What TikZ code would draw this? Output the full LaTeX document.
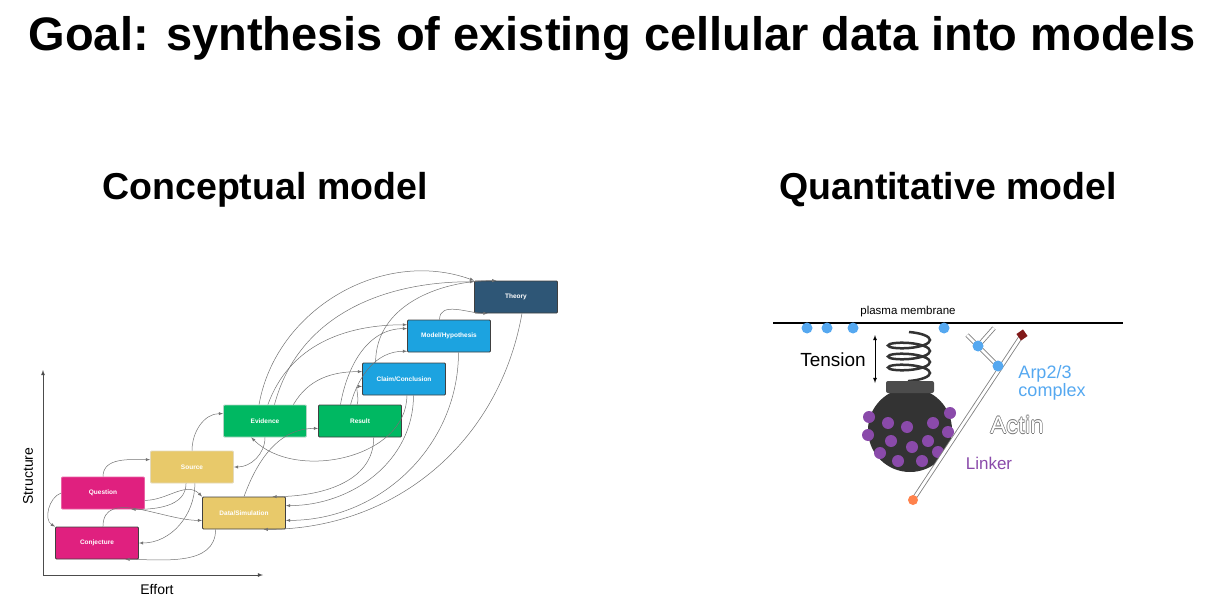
\documentclass[tikz,border=0pt]{standalone}
\usepackage{fontspec}
\setmainfont{Liberation Sans}
\usetikzlibrary{decorations.pathmorphing,calc}
\definecolor{theoryblue}{HTML}{2E5676}
\definecolor{claimblue}{HTML}{1CA3E0}
\definecolor{evgreen}{HTML}{00B862}
\definecolor{srcyellow}{HTML}{E8C96A}
\definecolor{qmagenta}{HTML}{E0207F}
\definecolor{arpblue}{HTML}{55A8F0}
\definecolor{linkpurple}{HTML}{8A4AAA}
\tikzset{
  stage/.style={draw=black!75, line width=0.8pt, rounded corners=1pt, minimum width=83pt,
    minimum height=32pt, text=white, font=\fontsize{6.5}{7}\selectfont\bfseries},
  link/.style={-latex, draw=black!55, line width=0.5pt},
  heading/.style={font=\fontsize{37.5}{40}\selectfont\bfseries},
  arpdot/.style={fill=arpblue, draw=none},
  lnkdot/.style={fill=linkpurple, draw=none},
  actinfont/.style={font=\fontsize{24}{26}\selectfont}
}
\begin{document}
\begin{tikzpicture}[x=1pt,y=-1pt]
  \useasboundingbox (0,0) rectangle (1218,610);
  \node[font=\fontsize{47}{50}\selectfont\bfseries] (title) at (612,38) {Goal: synthesis of existing cellular data into models};
  \node[heading] (concept) at (265,190) {Conceptual model};
  \node[heading] (quant) at (948,190) {Quantitative model};

  % axes
  \coordinate (origin) at (43,575);
  \coordinate (ytop) at (43,370);
  \coordinate (xend) at (263,575);
  \draw[-latex, black!70, line width=0.8pt] (origin) -- (ytop);
  \draw[-latex, black!70, line width=0.8pt] (origin) -- (xend);
  \node[rotate=90, font=\fontsize{14}{16}\selectfont] (structure) at (28,476) {Structure};
  \node[font=\fontsize{14}{16}\selectfont] (effort) at (157,589) {Effort};

  % stages
  \node[stage, fill=theoryblue] (theory) at (516,297) {Theory};
  \node[stage, fill=claimblue] (model) at (449,336) {Model/Hypothesis};
  \node[stage, fill=claimblue] (claim) at (404,379) {Claim/Conclusion};
  \node[stage, fill=evgreen, draw=evgreen!60!black!30] (evidence) at (265,421) {Evidence};
  \node[stage, fill=evgreen] (result) at (360,421) {Result};
  \node[stage, fill=srcyellow, draw=srcyellow!80!black!40] (source) at (192,467) {Source};
  \node[stage, fill=qmagenta, draw=qmagenta!70] (question) at (103,493) {Question};
  \node[stage, fill=srcyellow] (data) at (244,513) {Data/Simulation};
  \node[stage, fill=qmagenta] (conjecture) at (97,543) {Conjecture};

  % links
  \draw[link] (question.north) to[out=90, in=180] (source.170);
  \draw[link] (source.north) to[out=90, in=180] (evidence.170);
  \draw[link] (evidence.south) to[out=-90, in=0] (source.east);
  \draw[link] (question.-10) to[out=0, in=135] (data.north west);
  \draw[link] (source.-110) to[out=-90, in=0] (question.-30);
  \draw[link] (source.-80) to[out=-90, in=0] (conjecture.east);
  \draw[link] (question.west) to[out=200, in=150] (conjecture.north west);
  \draw[link] (conjecture.70) to[out=90, in=180] (data.-170);
  \draw[link] (data.-150) to[out=-90, in=0] (conjecture.-30);
  \draw[link] (data.north) to[out=70, in=180] (result.-170);
  \draw[link] (result.-50) to[out=-90, in=0] (data.30);
  \draw[link] (claim.-60) to[out=-90, in=0] (data.10);
  \draw[link] (model.-60) to[out=-90, in=0] (data.-10);
  \draw[link] (theory.-70) to[out=-100, in=0] (data.-40);
  \draw[link] (claim.-80) to[out=-90, in=-45] (evidence.-130);
  \draw[link] (evidence.110) to[out=80, in=160] (theory.north west);
  \draw[link] (evidence.60) to[out=75, in=180] (theory.160);
  \draw[link] (evidence.80) to[out=70, in=180] (model.165);
  \draw[link] (evidence.30) to[out=60, in=180] (claim.170);
  \draw[link] (result.140) to[out=80, in=180] (model.170);
  \draw[link] (result.120) to[out=75, in=180] (model.-160);
  \draw[link] (result.100) to[out=70, in=180] (claim.-170);
  \draw[link] (claim.150) to[out=90, in=180] (theory.140);
  \draw[link] (model.120) to[out=90, in=180] (theory.-150);

  % membrane
  \coordinate (memleft) at (773,323);
  \coordinate (memright) at (1123,323);
  \draw[line width=1.2pt] (memleft) -- (memright);
  \node[font=\fontsize{11.5}{13}\selectfont] (plasma) at (908,312) {plasma membrane};
  \foreach \x in {807,827,853,944}
    \fill[arpdot] (\x,328) circle (5.5);

  % bead with spring
  \fill[black!80] (910,430) circle (42);
  \coordinate (springtop) at (909,332);
  \coordinate (springbot) at (909,381);
  \draw[black!80, line width=2.5pt, decorate, decoration={coil, aspect=0.25, segment length=11pt, amplitude=21pt}] (springtop) -- (springbot);
  \fill[black!70, rounded corners=2pt] (886,381) rectangle (934,393);
  \foreach \p in {(869,417),(888,423),(907,427),(933,423),(950,413),(868,435),(891,441),(912,447),(928,441),(948,432),(880,453),(898,461),(922,461),(938,452)}
    \fill[lnkdot] \p circle (6);
  \coordinate (tensiontop) at (875,335);
  \coordinate (tensionbot) at (875,383);
  \draw[latex-latex, line width=0.8pt] (tensiontop) -- (tensionbot);
  \node[font=\fontsize{19}{21}\selectfont] (tension) at (833,360) {Tension};

  % actin filament
  \coordinate (actinbot) at (913,500);
  \coordinate (actintop) at (1022,335);
  \coordinate (branchroot) at (998,366);
  \coordinate (branchend) at (967,335);
  \coordinate (branchmid) at (978,346);
  \coordinate (branchtip) at (994,328);
  \draw[black!50, line width=4.5pt, line cap=butt] (actinbot) -- (actintop);
  \draw[white, line width=2.8pt] (actinbot) -- (actintop);
  \draw[black!50, line width=4.5pt] (branchroot) -- (branchend);
  \draw[white, line width=2.8pt] (branchroot) -- (branchend);
  \draw[black!50, line width=4.5pt] (branchmid) -- (branchtip);
  \draw[white, line width=2.8pt] (branchmid) -- (branchtip);
  \fill[red!45!black!90, rotate around={-55:(actintop)}] ($(actintop)+(-4,-4)$) rectangle ($(actintop)+(4,4)$);
  \fill[orange!60!red!70] (actinbot) circle (5);
  \fill[arpdot] (branchmid) circle (5.5);
  \fill[arpdot] (branchroot) circle (5.5);
  \node[text=arpblue, align=left, font=\fontsize{18}{16}\selectfont] (arp) at (1052,383) {Arp2/3\\complex};
  \foreach \dx/\dy in {-0.6/0,0.6/0,0/-0.6,0/0.6}
    \node[actinfont, text=black!55] at (1017+\dx,425+\dy) {Actin};
  \node[actinfont, text=white] (actin) at (1017,425) {Actin};
  \node[text=linkpurple, font=\fontsize{17}{19}\selectfont] (linker) at (989,463) {Linker};
\end{tikzpicture}
\end{document}
